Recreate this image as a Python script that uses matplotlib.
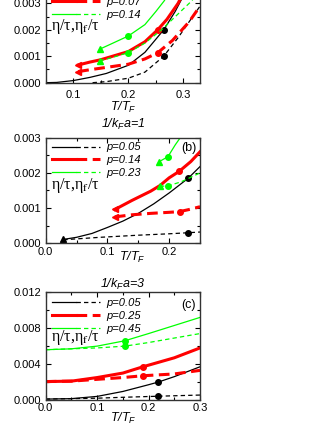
import numpy as np
import matplotlib
matplotlib.use('Agg')
import matplotlib.pyplot as plt
from matplotlib.legend_handler import HandlerTuple
from matplotlib.ticker import MultipleLocator, FormatStrFormatter

plt.rcParams['font.family'] = ['Liberation Sans', 'DejaVu Sans']
plt.rcParams['mathtext.fontset'] = 'custom'
plt.rcParams['mathtext.it'] = 'Liberation Sans:italic'
plt.rcParams['mathtext.rm'] = 'Liberation Sans:italic'

# ---------------- panel (a) ----------------
a_labels = ['p=0.02', 'p=0.07', 'p=0.14']
a_blk_T = [0.05, 0.07, 0.10, 0.13, 0.16, 0.20, 0.23, 0.264, 0.285, 0.30, 0.31]
a_blk_v = [0.0, 0.00001, 0.00008, 0.0002, 0.00035, 0.00066, 0.00115, 0.0020, 0.0027, 0.0033, 0.0037]
a_blkd_T = [0.135, 0.16, 0.20, 0.23, 0.264, 0.29, 0.31, 0.33]
a_blkd_v = [0.0, 0.00004, 0.00017, 0.0004, 0.0010, 0.0017, 0.0023, 0.0029]
a_red_T = [0.109, 0.13, 0.15, 0.20, 0.23, 0.253, 0.27, 0.29, 0.30]
a_red_v = [0.00067, 0.00078, 0.00087, 0.00118, 0.00155, 0.0020, 0.0024, 0.0030, 0.0034]
a_redd_T = [0.109, 0.13, 0.16, 0.20, 0.23, 0.253, 0.28, 0.31, 0.33]
a_redd_v = [0.00042, 0.00049, 0.00058, 0.0007, 0.0009, 0.00113, 0.0016, 0.0023, 0.0029]
a_grn_T = [0.148, 0.17, 0.20, 0.23, 0.25, 0.265, 0.28]
a_grn_v = [0.00127, 0.00148, 0.00177, 0.0022, 0.0027, 0.0031, 0.0036]
a_grnd_T = [0.148, 0.17, 0.20, 0.23, 0.26, 0.29, 0.315, 0.33]
a_grnd_v = [0.00083, 0.00095, 0.00114, 0.0015, 0.0020, 0.0026, 0.0031, 0.0035]
a_dots = {'blk': (0.264, 0.0020), 'blkd': (0.264, 0.0010), 'red': (0.253, 0.0020),
          'redd': (0.253, 0.00113), 'grn': (0.20, 0.00177), 'grnd': (0.20, 0.00114)}

# ---------------- panel (b) ----------------
b_labels = ['p=0.05', 'p=0.14', 'p=0.23']
b_blk_T = [0.0285, 0.05, 0.075, 0.10, 0.125, 0.15, 0.175, 0.20, 0.231, 0.25]
b_blk_v = [0.00011, 0.00017, 0.00028, 0.00045, 0.00063, 0.00085, 0.00112, 0.00143, 0.00185, 0.00218]
b_blkd_T = [0.0285, 0.088, 0.15, 0.20, 0.231, 0.25]
b_blkd_v = [0.0001, 0.00017, 0.00023, 0.00027, 0.0003, 0.00032]
b_red_T = [0.112, 0.14, 0.17, 0.185, 0.20, 0.216, 0.235, 0.25]
b_red_v = [0.00096, 0.00122, 0.00148, 0.00164, 0.00186, 0.00204, 0.00232, 0.0026]
b_redd_T = [0.112, 0.14, 0.17, 0.20, 0.217, 0.235, 0.25]
b_redd_v = [0.00075, 0.00081, 0.00085, 0.00088, 0.0009, 0.00097, 0.00104]
b_grn_T = [0.184, 0.198, 0.21, 0.222]
b_grn_v = [0.00232, 0.00246, 0.0028, 0.0031]
b_grnd_T = [0.185, 0.198, 0.22, 0.25]
b_grnd_v = [0.00162, 0.00163, 0.00175, 0.0020]
b_dots = {'blk': (0.231, 0.00185), 'blkd': (0.231, 0.0003), 'red': (0.216, 0.00204),
          'redd': (0.217, 0.0009), 'grn': (0.198, 0.00246), 'grnd': (0.198, 0.00163)}

# ---------------- panel (c) ----------------
c_labels = ['p=0.05', 'p=0.25', 'p=0.45']
c_blk_T = [0.0, 0.05, 0.10, 0.15, 0.20, 0.219, 0.25, 0.30]
c_blk_v = [0.0001, 0.00015, 0.0004, 0.00095, 0.0017, 0.0020, 0.0026, 0.0037]
c_blkd_T = [0.0, 0.10, 0.15, 0.219, 0.30]
c_blkd_v = [0.0001, 0.0002, 0.0003, 0.00042, 0.00055]
c_red_T = [0.0, 0.05, 0.10, 0.15, 0.189, 0.25, 0.30]
c_red_v = [0.00205, 0.0021, 0.0025, 0.0030, 0.0037, 0.0047, 0.0058]
c_redd_T = [0.0, 0.05, 0.10, 0.15, 0.189, 0.25, 0.30]
c_redd_v = [0.00205, 0.0021, 0.0023, 0.0025, 0.0027, 0.0029, 0.0033]
c_grn_T = [0.0, 0.05, 0.10, 0.154, 0.20, 0.25, 0.30]
c_grn_v = [0.0056, 0.0057, 0.0060, 0.0066, 0.0074, 0.0083, 0.0092]
c_grnd_T = [0.0, 0.05, 0.10, 0.154, 0.20, 0.25, 0.30]
c_grnd_v = [0.0056, 0.0057, 0.0058, 0.0060, 0.0064, 0.0069, 0.0074]
c_dots = {'blk': (0.219, 0.0020), 'blkd': (0.219, 0.00042), 'red': (0.189, 0.0037),
          'redd': (0.189, 0.0027), 'grn': (0.154, 0.0066), 'grnd': (0.154, 0.0060)}

GREEN = '#00ff00'
styles = {
    'blk': dict(color='black', lw=0.9, ls='-'),
    'blkd': dict(color='black', lw=0.9, ls=(0, (3.5, 2.5))),
    'red': dict(color='#ff0000', lw=2.2, ls='-'),
    'redd': dict(color='#ff0000', lw=2.2, ls=(0, (3.5, 1.8))),
    'grn': dict(color=GREEN, lw=0.9, ls='-'),
    'grnd': dict(color=GREEN, lw=0.9, ls=(0, (3.5, 2.5))),
}


def panel(ax, curves, dots, labels, tri, xlim, ylim, xmaj, ymaj, title, tag,
          leg_y, eta_y, tag_y, xl_x, xl_y, xpad, tpad):
    lines = {}
    for key, (T, v) in curves.items():
        st = styles[key]
        ln, = ax.plot(T, v, color=st['color'], lw=st['lw'], ls=st['ls'])
        lines[key] = ln
        if key in tri:
            mk = '<' if key.startswith('red') else '^'
            ax.plot(T[0], v[0], marker=mk, ms=5, color=st['color'], ls='none')
        dT, dv = dots[key]
        ax.plot(dT, dv, marker='o', ms=4, color=st['color'], ls='none')
    ax.set_xlim(*xlim)
    ax.set_ylim(*ylim)
    ax.xaxis.set_major_locator(MultipleLocator(xmaj))
    ax.xaxis.set_minor_locator(MultipleLocator(xmaj / 2))
    ax.yaxis.set_major_locator(MultipleLocator(ymaj))
    ax.yaxis.set_minor_locator(MultipleLocator(ymaj / 2))
    ax.yaxis.set_major_formatter(FormatStrFormatter('%.3f'))
    ax.xaxis.set_major_formatter(FormatStrFormatter('%.1f'))
    ax.tick_params(which='both', direction='in', top=True, right=True, labelsize=8)
    ax.tick_params(which='major', length=3.5, width=0.8)
    ax.tick_params(which='minor', length=2, width=0.8)
    ax.tick_params(axis='x', pad=xpad)
    ax.tick_params(axis='y', pad=3)
    for s in ax.spines.values():
        s.set_linewidth(1.0)
        s.set_color('#333333')
    ax.set_title(title, fontsize=9, style='italic', pad=tpad)
    ax.set_xlabel('T/T$_F$', fontsize=9, style='italic')
    ax.xaxis.set_label_coords(xl_x, xl_y)
    handles = [(lines['blk'], lines['blkd']), (lines['red'], lines['redd']),
               (lines['grn'], lines['grnd'])]
    ax.legend(handles, labels, handler_map={tuple: HandlerTuple(ndivide=None, pad=0)},
              loc='upper left', bbox_to_anchor=(0.04, leg_y), borderaxespad=0,
              borderpad=0, frameon=False, handlelength=4.3, handletextpad=0.6,
              labelspacing=0.25, prop={'size': 8, 'style': 'italic'})
    ax.text(0.035, eta_y, r'η/τ,η$_\mathrm{f}$/τ', transform=ax.transAxes,
            fontsize=11.5, va='center', ha='left', family='Liberation Serif',
            math_fontfamily='stix')
    if tag:
        ax.text(0.975, tag_y, tag, transform=ax.transAxes, fontsize=9,
                ha='right', va='center')


fig = plt.figure(figsize=(3.32, 4.30), dpi=100)
ax_a = fig.add_axes([0.1377, 0.8077, 0.4648, 0.2456])
ax_b = fig.add_axes([0.1377, 0.4342, 0.4648, 0.2456])
ax_c = fig.add_axes([0.1377, 0.0698, 0.4648, 0.2505])

panel(ax_a,
      {'blk': (a_blk_T, a_blk_v), 'blkd': (a_blkd_T, a_blkd_v),
       'red': (a_red_T, a_red_v), 'redd': (a_redd_T, a_redd_v),
       'grn': (a_grn_T, a_grn_v), 'grnd': (a_grnd_T, a_grnd_v)},
      a_dots, a_labels, ['red', 'redd', 'grn', 'grnd'],
      (0.05, 0.33), (0, 0.004), 0.1, 0.001, '1/k$_F$a=0', '(a)',
      0.935, 0.53, 0.9, 0.5, -0.16, 5.0, 6)

panel(ax_b,
      {'blk': (b_blk_T, b_blk_v), 'blkd': (b_blkd_T, b_blkd_v),
       'red': (b_red_T, b_red_v), 'redd': (b_redd_T, b_redd_v),
       'grn': (b_grn_T, b_grn_v), 'grnd': (b_grnd_T, b_grnd_v)},
      b_dots, b_labels, ['blk', 'red', 'redd', 'grn', 'grnd'],
      (0.0, 0.25), (0, 0.003), 0.1, 0.001, '1/k$_F$a=1', '(b)',
      0.955, 0.55, 0.9, 0.56, -0.06, 2.5, 7)

panel(ax_c,
      {'blk': (c_blk_T, c_blk_v), 'blkd': (c_blkd_T, c_blkd_v),
       'red': (c_red_T, c_red_v), 'redd': (c_redd_T, c_redd_v),
       'grn': (c_grn_T, c_grn_v), 'grnd': (c_grnd_T, c_grnd_v)},
      c_dots, c_labels, [],
      (0.0, 0.3), (0, 0.012), 0.1, 0.004, '1/k$_F$a=3', '(c)',
      0.945, 0.58, 0.88, 0.5, -0.105, 2.5, 3)

fig.savefig('out.png', dpi=100)
